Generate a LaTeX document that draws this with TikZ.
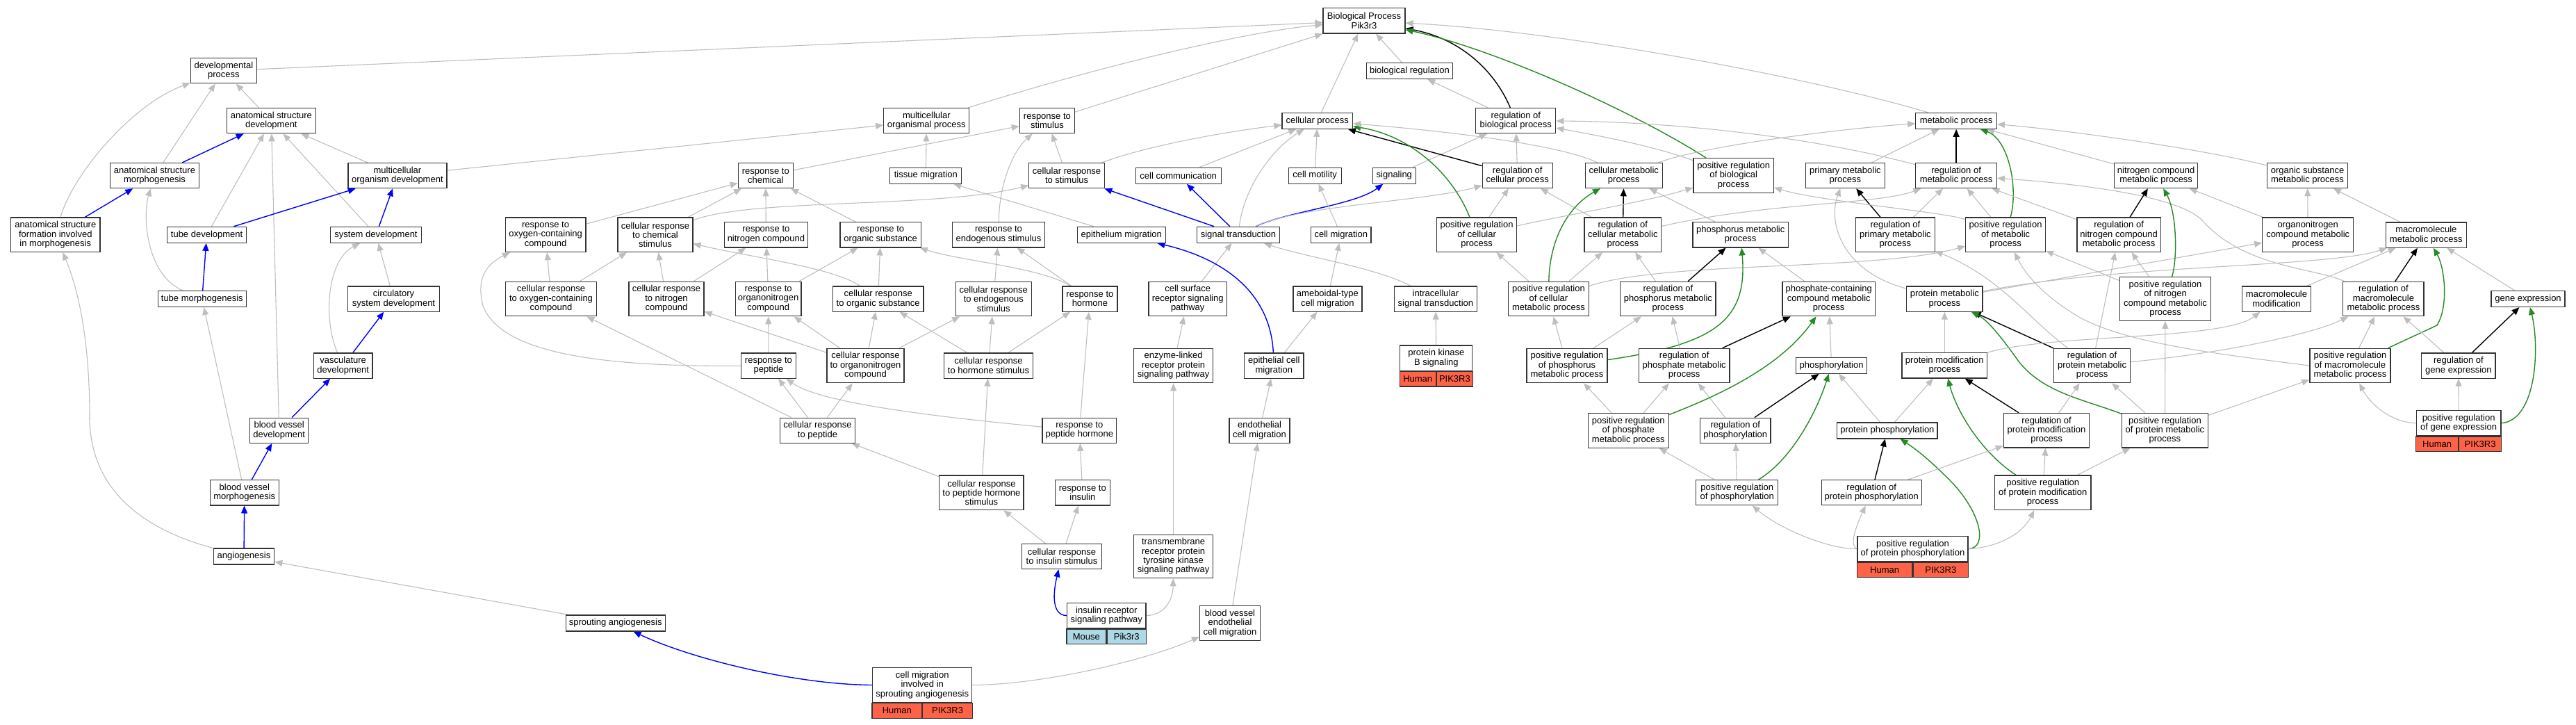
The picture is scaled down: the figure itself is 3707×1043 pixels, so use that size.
\documentclass[tikz,border=0pt]{standalone}
\usepackage{fontspec}
\setmainfont{Liberation Sans}
\usetikzlibrary{arrows.meta,backgrounds}
\definecolor{ISA}{RGB}{190,190,190}
\definecolor{PO}{RGB}{0,0,255}
\definecolor{PR}{RGB}{34,139,34}
\definecolor{HS}{RGB}{255,99,71}
\definecolor{MM}{RGB}{173,216,230}

\begin{document}
\begin{tikzpicture}[x=1pt,y=-1pt,
    term/.style={draw=black!80, line width=1.2pt, fill=white, align=center,
      inner xsep=3pt, inner ysep=1pt, font=\fontsize{13}{13.4}\selectfont},
    ln1/.style={minimum height=23pt}, ln2/.style={minimum height=36.2pt},
    ln3/.style={minimum height=49.6pt}, ln4/.style={minimum height=62.5pt},
    bw/.style={minimum width=#1pt},
    human/.style={draw=black!80, line width=1.2pt, fill=HS, minimum height=21.7pt,
      inner sep=0pt, font=\fontsize{13}{13.4}\selectfont},
    mouse/.style={human, fill=MM},
    isa/.style={draw=ISA, line width=1.1pt, -{Triangle[length=11pt,width=9pt]}},
    partof/.style={isa, draw=PO, line width=1.4pt},
    regul/.style={isa, draw=black, line width=1.4pt},
    posreg/.style={isa, draw=PR, line width=1.4pt}]
  \useasboundingbox (0,0) rectangle (3707,1043);

  \node[term,ln2,bw=118] (bp) at (1963,30) {Biological Process\\Pik3r3};
  \node[term,ln2,bw=95] (devproc) at (321.9,101.8) {developmental\\process};
  \node[term,ln1,bw=124] (bioreg) at (2028.5,102) {biological regulation};
  \node[term,ln2,bw=128] (asd) at (390.4,173.7) {anatomical structure\\development};
  \node[term,ln2,bw=123] (mop) at (1333.3,173.7) {multicellular\\organismal process};
  \node[term,ln2,bw=79] (rstim) at (1506.9,173.7) {response to\\stimulus};
  \node[term,ln1,bw=101.5] (cellproc) at (1895.8,173.7) {cellular process};
  \node[term,ln2,bw=115] (rbp) at (2181.3,173.7) {regulation of\\biological process};
  \node[term,ln1,bw=116.6] (metproc) at (2815.1,173.8) {metabolic process};
  \node[term,ln2,bw=128] (asm) at (222.5,252.6) {anatomical structure\\morphogenesis};
  \node[term,ln2,bw=142] (mod) at (571.9,252.6) {multicellular\\organism development};
  \node[term,ln2,bw=79] (rchem) at (1101.8,252.6) {response to\\chemical};
  \node[term,ln1,bw=103] (tissue) at (1332.3,252.6) {tissue migration};
  \node[term,ln2,bw=108.6] (crstim) at (1535.1,252.6) {cellular response\\to stimulus};
  \node[term,ln1,bw=123] (cellcomm) at (1695.7,252.6) {cell communication};
  \node[term,ln1,bw=76] (cellmot) at (1892.1,252.6) {cell motility};
  \node[term,ln1,bw=61.6] (signaling) at (2006.3,252.6) {signaling};
  \node[term,ln2,bw=101] (rcp) at (2183.7,252.6) {regulation of\\cellular process};
  \node[term,ln2,bw=111] (cmp) at (2336.7,252.6) {cellular metabolic\\process};
  \node[term,ln3,bw=115.4] (prbp) at (2494.7,252.4) {positive regulation\\of biological\\process};
  \node[term,ln2,bw=113.5] (primet) at (2655.4,252.5) {primary metabolic\\process};
  \node[term,ln2,bw=116.6] (rmp) at (2815.1,252.5) {regulation of\\metabolic process};
  \node[term,ln2,bw=120.5] (ncmp) at (3102.6,252.5) {nitrogen compound\\metabolic process};
  \node[term,ln2,bw=116] (osmp) at (3320.5,252.5) {organic substance\\metabolic process};
  \node[term,ln3,bw=128.5] (asfm) at (79.8,337.8) {anatomical structure\\formation involved\\in morphogenesis};
  \node[term,ln1,bw=113.5] (tubedev) at (297.6,337.8) {tube development};
  \node[term,ln1,bw=131] (sysdev) at (541,337.8) {system development};
  \node[term,ln3,bw=115.6] (roxy) at (785.1,337.8) {response to\\oxygen-containing\\compound};
  \node[term,ln3,bw=108] (crchem) at (943,337.8) {cellular response\\to chemical\\stimulus};
  \node[term,ln2,bw=120] (rnitro) at (1102.4,337.8) {response to\\nitrogen compound};
  \node[term,ln2,bw=116.3] (rorg) at (1267.2,337.8) {response to\\organic substance};
  \node[term,ln2,bw=133.5] (rendo) at (1437,337.8) {response to\\endogenous stimulus};
  \node[term,ln1,bw=127] (epimig) at (1613.7,337.8) {epithelium migration};
  \node[term,ln1,bw=118.3] (sigtrans) at (1782,337.8) {signal transduction};
  \node[term,ln1,bw=86.5] (cellmig) at (1929.8,337.8) {cell migration};
  \node[term,ln3,bw=114.6] (prcp) at (2125.1,337.8) {positive regulation\\of cellular\\process};
  \node[term,ln3,bw=110.6] (rcmp) at (2335.3,337.8) {regulation of\\cellular metabolic\\process};
  \node[term,ln2,bw=137.3] (phosmp) at (2504.7,337.8) {phosphorus metabolic\\process};
  \node[term,ln3,bw=113.5] (rprimet) at (2727.4,337.8) {regulation of\\primary metabolic\\process};
  \node[term,ln3,bw=114.6] (prmp) at (2886.1,337.8) {positive regulation\\of metabolic\\process};
  \node[term,ln3,bw=120.4] (rncmp) at (3049.1,337.8) {regulation of\\nitrogen compound\\metabolic process};
  \node[term,ln3,bw=131] (onitro) at (3321.2,337.7) {organonitrogen\\compound metabolic\\process};
  \node[term,ln2,bw=116] (macmp) at (3491.3,338) {macromolecule\\metabolic process};
  \node[term,ln1,bw=127] (tubemorph) at (290.8,430) {tube morphogenesis};
  \node[term,ln2,bw=131.4] (circ) at (566.5,430) {circulatory\\system development};
  \node[term,ln3,bw=131.5] (croxy) at (793,430) {cellular response\\to oxygen-containing\\compound};
  \node[term,ln3,bw=108] (crnitro) at (959,430) {cellular response\\to nitrogen\\compound};
  \node[term,ln3,bw=94.6] (rorgn) at (1105.7,430) {response to\\organonitrogen\\compound};
  \node[term,ln2,bw=130.6] (crorg) at (1263.7,430) {cellular response\\to organic substance};
  \node[term,ln3,bw=108.6] (crendo) at (1429.8,430) {cellular response\\to endogenous\\stimulus};
  \node[term,ln2,bw=79] (rhorm) at (1568.4,430) {response to\\hormone};
  \node[term,ln3,bw=112.3] (csrsp) at (1709.2,430) {cell surface\\receptor signaling\\pathway};
  \node[term,ln2,bw=99] (amoeb) at (1910.4,430) {ameboidal-type\\cell migration};
  \node[term,ln2,bw=119] (ist) at (2065.9,430) {intracellular\\signal transduction};
  \node[term,ln3,bw=116.3] (prcmp) at (2228.4,430) {positive regulation\\of cellular\\metabolic process};
  \node[term,ln3,bw=137.2] (rphosmp) at (2400.4,430) {regulation of\\phosphorus metabolic\\process};
  \node[term,ln3,bw=133.3] (phcmp) at (2631.7,430) {phosphate-containing\\compound metabolic\\process};
  \node[term,ln2,bw=109.2] (protmp) at (2798.3,430) {protein metabolic\\process};
  \node[term,ln4,bw=130.7] (prncmp) at (3116,430) {positive regulation\\of nitrogen\\compound metabolic\\process};
  \node[term,ln2,bw=98.7] (macmod) at (3276,430) {macromolecule\\modification};
  \node[term,ln3,bw=116.1] (rmacmp) at (3429.9,430) {regulation of\\macromolecule\\metabolic process};
  \node[term,ln1,bw=106] (geneexp) at (3638,430) {gene expression};
  \node[term,ln2,bw=84.5] (vasc) at (493.7,526) {vasculature\\development};
  \node[term,ln2,bw=78.8] (rpep) at (1105.9,526) {response to\\peptide};
  \node[term,ln3,bw=111] (crorgn) at (1245.5,526) {cellular response\\to organonitrogen\\compound};
  \node[term,ln2,bw=128] (crhorm) at (1422.5,526) {cellular response\\to hormone stimulus};
  \node[term,ln3,bw=113.5] (enzyme) at (1688.6,526) {enzyme-linked\\receptor protein\\signaling pathway};
  \node[term,ln2,bw=85.3] (epicell) at (1833.3,526) {epithelial cell\\migration};
  \node[term,ln2,bw=104] (pkb) at (2066.8,515) {protein kinase\\B signaling};
  \node[human,bw=52,anchor=north east] (pkb-sp) at (pkb.south) {Human};
  \node[human,bw=52,anchor=north west] (pkb-gn) at (pkb.south) {PIK3R3};
  \node[term,ln3,bw=116] (prphosmp) at (2255,526) {positive regulation\\of phosphorus\\metabolic process};
  \node[term,ln3,bw=130.6] (rphatemp) at (2423.7,526) {regulation of\\phosphate metabolic\\process};
  \node[term,ln1,bw=101.6] (phosn) at (2635.6,525.7) {phosphorylation};
  \node[term,ln2,bw=122.6] (protmod) at (2798.3,525.9) {protein modification\\process};
  \node[term,ln3,bw=109.5] (rprotmp) at (3010.5,525.9) {regulation of\\protein metabolic\\process};
  \node[term,ln3,bw=116] (prmacmp) at (3381.9,526) {positive regulation\\of macromolecule\\metabolic process};
  \node[term,ln2,bw=106.3] (rgeneexp) at (3537.9,526) {regulation of\\gene expression};
  \node[term,ln2,bw=84] (bvd) at (401.7,619.2) {blood vessel\\development};
  \node[term,ln2,bw=108] (crpep) at (1176.5,619.2) {cellular response\\to peptide};
  \node[term,ln2,bw=106.5] (rpephorm) at (1553.3,619.2) {response to\\peptide hormone};
  \node[term,ln2,bw=87] (endocell) at (1812.5,619.2) {endothelial\\cell migration};
  \node[term,ln3,bw=116] (prphatemp) at (2343.3,619.4) {positive regulation\\of phosphate\\metabolic process};
  \node[term,ln2,bw=101.5] (rphos) at (2497.3,619.2) {regulation of\\phosphorylation};
  \node[term,ln1,bw=144.3] (protphos) at (2715.9,619.4) {protein phosphorylation};
  \node[term,ln3,bw=123.4] (rprotmod) at (2945,619.2) {regulation of\\protein modification\\process};
  \node[term,ln3,bw=124] (prprotmp) at (3115.4,619.2) {positive regulation\\of protein metabolic\\process};
  \node[term,ln2,bw=121.6] (prgeneexp) at (3538.1,608.7) {positive regulation\\of gene expression};
  \node[human,bw=60.8,anchor=north east] (prgeneexp-sp) at (prgeneexp.south) {Human};
  \node[human,bw=60.8,anchor=north west] (prgeneexp-gn) at (prgeneexp.south) {PIK3R3};
  \node[term,ln2,bw=98.8] (bvm) at (351.8,708.8) {blood vessel\\morphogenesis};
  \node[term,ln3,bw=121.2] (crpephorm) at (1412.4,708.8) {cellular response\\to peptide hormone\\stimulus};
  \node[term,ln2,bw=78.7] (rins) at (1557.8,708.8) {response to\\insulin};
  \node[term,ln2,bw=118] (pphos) at (2499.7,708.7) {positive regulation\\of phosphorylation};
  \node[term,ln2,bw=143.9] (rprotphos) at (2693.2,708.7) {regulation of\\protein phosphorylation};
  \node[term,ln3,bw=138.7] (prprotmod) at (2939.7,708.7) {positive regulation\\of protein modification\\process};
  \node[term,ln1,bw=87.4] (angio) at (351,800.4) {angiogenesis};
  \node[term,ln2,bw=114.7] (crins) at (1528,800.5) {cellular response\\to insulin stimulus};
  \node[term,ln4,bw=113.5] (tmrtk) at (1688.6,800.5) {transmembrane\\receptor protein\\tyrosine kinase\\signaling pathway};
  \node[term,ln2,bw=159] (prprotphos) at (2752.5,789.7) {positive regulation\\of protein phosphorylation};
  \node[human,bw=79.5,anchor=north east] (prprotphos-sp) at (prprotphos.south) {Human};
  \node[human,bw=79.5,anchor=north west] (prprotphos-gn) at (prprotphos.south) {PIK3R3};
  \node[term,ln1,bw=142.8] (sprout) at (885.7,896.5) {sprouting angiogenesis};
  \node[term,ln2,bw=113.5] (irsp) at (1592.3,885.6) {insulin receptor\\signaling pathway};
  \node[mouse,bw=56.75,anchor=north east] (irsp-sp) at (irsp.south) {Mouse};
  \node[mouse,bw=56.75,anchor=north west] (irsp-gn) at (irsp.south) {Pik3r3};
  \node[term,ln3,bw=87] (bvecm) at (1770,896.3) {blood vessel\\endothelial\\cell migration};
  \node[term,ln3,bw=143.3] (cmisa) at (1327.2,985.5) {cell migration\\involved in\\sprouting angiogenesis};
  \node[human,bw=71.65,anchor=north east] (cmisa-sp) at (cmisa.south) {Human};
  \node[human,bw=71.65,anchor=north west] (cmisa-gn) at (cmisa.south) {PIK3R3};

  \begin{pgfonlayer}{background}
  \draw[isa] (asd) -- (devproc);
  \draw[isa] (asm) -- (devproc);
  \draw[isa] (asfm) .. controls (105,250) and (190,150) .. (devproc);
  \draw[partof] (asm) -- (asd);
  \draw[isa] (tubedev) -- (asd);
  \draw[isa] (bvd) -- (asd);
  \draw[isa] (sysdev) -- (asd);
  \draw[isa] (mod) -- (asd);
  \draw[partof] (asfm) -- (asm);
  \draw[isa] (tubemorph) .. controls (210,395) and (205,310) .. (asm);
  \draw[partof] (tubedev) -- (mod);
  \draw[partof] (sysdev) -- (mod);
  \draw[partof] (tubemorph) -- (tubedev);
  \draw[isa] (vasc) .. controls (465,460) and (470,375) .. (sysdev);
  \draw[isa] (circ) -- (sysdev);
  \draw[partof] (vasc) -- (circ);
  \draw[isa] (bvm) -- (tubemorph);
  \draw[isa] (angio) .. controls (200,760) and (129,700) .. (129,600) .. controls (129,480) and (110,410) .. (asfm);
  \draw[partof] (bvd) -- (vasc);
  \draw[partof] (bvm) -- (bvd);
  \draw[partof] (angio) -- (bvm);
  \draw[isa] (sprout) -- (angio);
  \draw[isa] (devproc) -- (bp);
  \draw[isa] (mod) -- (mop);

  \draw[isa] (rchem) -- (rstim);
  \draw[isa] (roxy) -- (rchem);
  \draw[isa] (crchem) -- (rchem);
  \draw[isa] (rnitro) -- (rchem);
  \draw[isa] (rorg) -- (rchem);
  \draw[isa] (crchem) .. controls (1080,285) and (1350,300) .. (crstim);
  \draw[isa] (croxy) -- (roxy);
  \draw[isa] (croxy) -- (crchem);
  \draw[isa] (crnitro) -- (crchem);
  \draw[isa] (crnitro) -- (rnitro);
  \draw[isa] (rorgn) -- (rnitro);
  \draw[isa] (rorgn) -- (rorg);
  \draw[isa] (crorg) .. controls (1200,385) and (1080,370) .. (crchem);
  \draw[isa] (rpep) .. controls (850,528) and (720,505) .. (695,440) .. controls (685,400) and (700,380) .. (roxy);
  \draw[isa] (crpep) -- (croxy);
  \draw[isa] (crorgn) -- (crnitro);
  \draw[isa] (rpep) -- (rorgn);
  \draw[isa] (crorgn) -- (rorgn);
  \draw[isa] (crorgn) -- (crorg);
  \draw[isa] (crpep) -- (rpep);
  \draw[isa] (crpep) -- (crorgn);
  \draw[isa] (rpephorm) .. controls (1350,600) and (1180,580) .. (rpep);
  \draw[isa] (crpephorm) -- (crpep);

  \draw[isa] (mop) .. controls (1600,90) and (1800,45) .. (bp);
  \draw[isa] (rstim) -- (bp);
  \draw[isa] (tissue) -- (mop);
  \draw[isa] (rendo) .. controls (1438,260) and (1460,215) .. (rstim);
  \draw[isa] (crstim) -- (rstim);
  \draw[isa] (crstim) .. controls (1650,210) and (1760,190) .. (cellproc);
  \draw[isa] (cellcomm) -- (cellproc);
  \draw[isa] (sigtrans) .. controls (1790,270) and (1830,215) .. (cellproc);
  \draw[partof] (sigtrans) -- (crstim);
  \draw[partof] (sigtrans) -- (cellcomm);
  \draw[partof] (sigtrans) .. controls (1850,305) and (1950,295) .. (signaling);
  \draw[isa] (sigtrans) .. controls (1870,295) and (2050,290) .. (rcp);
  \draw[isa] (epimig) -- (tissue);
  \draw[isa] (crorg) -- (rorg);
  \draw[isa] (rhorm) .. controls (1500,385) and (1380,375) .. (rorg);
  \draw[isa] (crendo) -- (rendo);
  \draw[isa] (rhorm) -- (rendo);
  \draw[isa] (crhorm) -- (crorg);
  \draw[isa] (crorgn) -- (crendo);
  \draw[isa] (crhorm) -- (crendo);
  \draw[isa] (crhorm) -- (rhorm);
  \draw[isa] (rpephorm) -- (rhorm);
  \draw[isa] (crpephorm) -- (crhorm);
  \draw[isa] (csrsp) -- (sigtrans);
  \draw[isa] (enzyme) -- (csrsp);
  \draw[isa] (ist) .. controls (1980,385) and (1880,370) .. (sigtrans);
  \draw[partof] (epicell) .. controls (1828,420) and (1760,372) .. (epimig);
  \draw[isa] (epicell) -- (amoeb);
  \draw[isa] (rins) -- (rpephorm);
  \draw[isa] (crins) -- (crpephorm);
  \draw[isa] (crins) -- (rins);
  \draw[partof] (irsp.west) .. controls (1512,885) and (1516,850) .. (crins);
  \draw[isa] (irsp.east) .. controls (1678,885) and (1688,860) .. (tmrtk);
  \draw[isa] (tmrtk) -- (enzyme);
  \draw[isa] (endocell) -- (epicell);
  \draw[isa] (bvecm) -- (endocell);
  \draw[isa] (cmisa.east) .. controls (1500,985) and (1650,950) .. (bvecm);
  \draw[partof] (cmisa.west) .. controls (1150,985) and (1000,950) .. (sprout);

  \draw[isa] (cellproc) -- (bp);
  \draw[isa] (bioreg) -- (bp);
  \draw[regul] (rbp) .. controls (2150,100) and (2100,55) .. (bp);
  \draw[posreg] (prbp) .. controls (2350,160) and (2150,70) .. (bp);
  \draw[isa] (metproc) .. controls (2600,110) and (2250,45) .. (bp);
  \draw[isa] (rbp) -- (bioreg);
  \draw[isa] (signaling) -- (rbp);
  \draw[regul] (rcp) -- (cellproc);
  \draw[posreg] (prcp) .. controls (2090,250) and (2030,195) .. (cellproc);
  \draw[isa] (cmp) .. controls (2250,210) and (2100,190) .. (cellproc);
  \draw[isa] (cellmot) -- (cellproc);
  \draw[isa] (rcp) -- (rbp);
  \draw[isa] (rmp) .. controls (2600,195) and (2400,175) .. (rbp);
  \draw[isa] (prbp) .. controls (2380,210) and (2300,195) .. (rbp);
  \draw[isa] (prcp) -- (rcp);
  \draw[isa] (rcmp) -- (rcp);
  \draw[regul] (rcmp) -- (cmp);
  \draw[posreg] (prcmp) .. controls (2230,340) and (2260,295) .. (cmp);
  \draw[isa] (phosmp) -- (cmp);
  \draw[isa] (prcp) .. controls (2250,310) and (2370,290) .. (prbp);
  \draw[isa] (rcmp) .. controls (2550,290) and (2700,295) .. (rmp);
  \draw[isa] (prcmp) .. controls (2400,375) and (2700,390) .. (prmp);
  \draw[isa] (prcmp) -- (rcmp);
  \draw[isa] (rphosmp) -- (rcmp);
  \draw[regul] (rphosmp) -- (phosmp);
  \draw[posreg] (prphosmp) .. controls (2470,495) and (2515,460) .. (phosmp);
  \draw[isa] (prcmp) -- (prcp);
  \draw[isa] (cellmig) -- (cellmot);
  \draw[isa] (amoeb) -- (cellmig);
  \draw[isa] (pkb) -- (ist);
  \draw[isa] (prphosmp) -- (prcmp);
  \draw[isa] (prphosmp) -- (rphosmp);
  \draw[isa] (rphatemp) -- (rphosmp);
  \draw[isa] (prphatemp) -- (prphosmp);
  \draw[isa] (prphatemp) -- (rphatemp);
  \draw[isa] (rphos) -- (rphatemp);
  \draw[regul] (rphatemp) -- (phcmp);
  \draw[posreg] (prphatemp) .. controls (2470,570) and (2560,530) .. (phcmp);
  \draw[isa] (phcmp) -- (phosmp);
  \draw[isa] (pphos) -- (prphatemp);
  \draw[isa] (pphos) -- (rphos);

  \draw[isa] (primet) -- (metproc);
  \draw[regul] (rmp) -- (metproc);
  \draw[posreg] (prmp) .. controls (2905,270) and (2890,200) .. (metproc);
  \draw[isa] (ncmp) -- (metproc);
  \draw[isa] (osmp) .. controls (3150,210) and (2950,185) .. (metproc);
  \draw[isa] (cmp) .. controls (2450,210) and (2650,185) .. (metproc);
  \draw[isa] (rprimet) -- (rmp);
  \draw[isa] (prmp) -- (rmp);
  \draw[isa] (rncmp) -- (rmp);
  \draw[isa] (rmacmp) .. controls (3330,385) and (3230,385) .. (3170,318) .. controls (3134,278) and (2960,262) .. (rmp);
  \draw[regul] (rprimet) -- (primet);
  \draw[isa] (protmp) .. controls (2650,390) and (2630,320) .. (primet);
  \draw[isa] (prmp) .. controls (2800,305) and (2620,290) .. (prbp);
  \draw[isa] (rprotmp) .. controls (2920,460) and (2880,400) .. (rprimet);
  \draw[isa] (prmacmp.west) .. controls (3200,510) and (3060,495) .. (2990,455) .. controls (2940,425) and (2915,395) .. (prmp);
  \draw[isa] (prncmp) -- (prmp);
  \draw[regul] (rncmp) -- (ncmp);
  \draw[isa] (rprotmp) -- (rncmp);
  \draw[isa] (prncmp) -- (rncmp);
  \draw[isa] (protmod) -- (protmp);
  \draw[regul] (rprotmp) -- (protmp);
  \draw[posreg] (prprotmp) .. controls (3000,575) and (2940,565) .. (2905,520) .. controls (2880,485) and (2860,460) .. (protmp);
  \draw[isa] (protmp) -- (onitro);
  \draw[isa] (protmp) .. controls (3050,380) and (3350,385) .. (macmp);
  \draw[isa] (macmod) -- (macmp);
  \draw[regul] (rmacmp) -- (macmp);
  \draw[posreg] (prmacmp) -- (3507,468) .. controls (3524,440) and (3518,385) .. (macmp);
  \draw[isa] (geneexp) -- (macmp);
  \draw[isa] (prmacmp) -- (rmacmp);
  \draw[isa] (rgeneexp) -- (rmacmp);
  \draw[isa] (rprotmp) .. controls (3200,508) and (3330,480) .. (rmacmp);
  \draw[regul] (rgeneexp) -- (geneexp);
  \draw[posreg] (prgeneexp.east) .. controls (3650,605) and (3655,500) .. (geneexp);
  \draw[isa] (prgeneexp) -- (rgeneexp);
  \draw[isa] (prgeneexp.west) .. controls (3440,608) and (3410,580) .. (prmacmp);
  \draw[isa] (prprotmp) -- (prmacmp);
  \draw[isa] (prprotmp) -- (prncmp);
  \draw[isa] (protmod) .. controls (2950,480) and (3200,490) .. (macmod);
  \draw[isa] (phosn) -- (phcmp);
  \draw[regul] (rphos) -- (phosn);
  \draw[posreg] (pphos) .. controls (2580,660) and (2615,590) .. (phosn);
  \draw[isa] (protphos) -- (phosn);
  \draw[isa] (protphos) -- (protmod);
  \draw[posreg] (prprotmod) .. controls (2850,650) and (2815,590) .. (protmod);
  \draw[regul] (rprotmod) -- (protmod);
  \draw[isa] (rprotmod) -- (rprotmp);
  \draw[isa] (prprotmp) -- (rprotmp);
  \draw[regul] (rprotphos) -- (protphos);
  \draw[posreg] (prprotphos.east) .. controls (2862,788) and (2850,735) .. (2805,690) .. controls (2780,665) and (2760,648) .. (protphos);
  \draw[isa] (rprotphos) -- (rprotmod);
  \draw[isa] (prprotmod) -- (rprotmod);
  \draw[isa] (prprotmod) -- (prprotmp);
  \draw[isa] (prprotphos.west) .. controls (2630,790) and (2560,760) .. (pphos);
  \draw[isa] (prprotphos.west) .. controls (2660,785) and (2672,755) .. (rprotphos);
  \draw[isa] (prprotphos.east) .. controls (2880,787) and (2912,765) .. (prprotmod);
  \draw[isa] (onitro) -- (osmp);
  \draw[isa] (macmp) -- (osmp);
  \draw[isa] (onitro) -- (ncmp);
  \draw[posreg] (prncmp) .. controls (3134,370) and (3132,305) .. (ncmp);
  \end{pgfonlayer}
\end{tikzpicture}
\end{document}
